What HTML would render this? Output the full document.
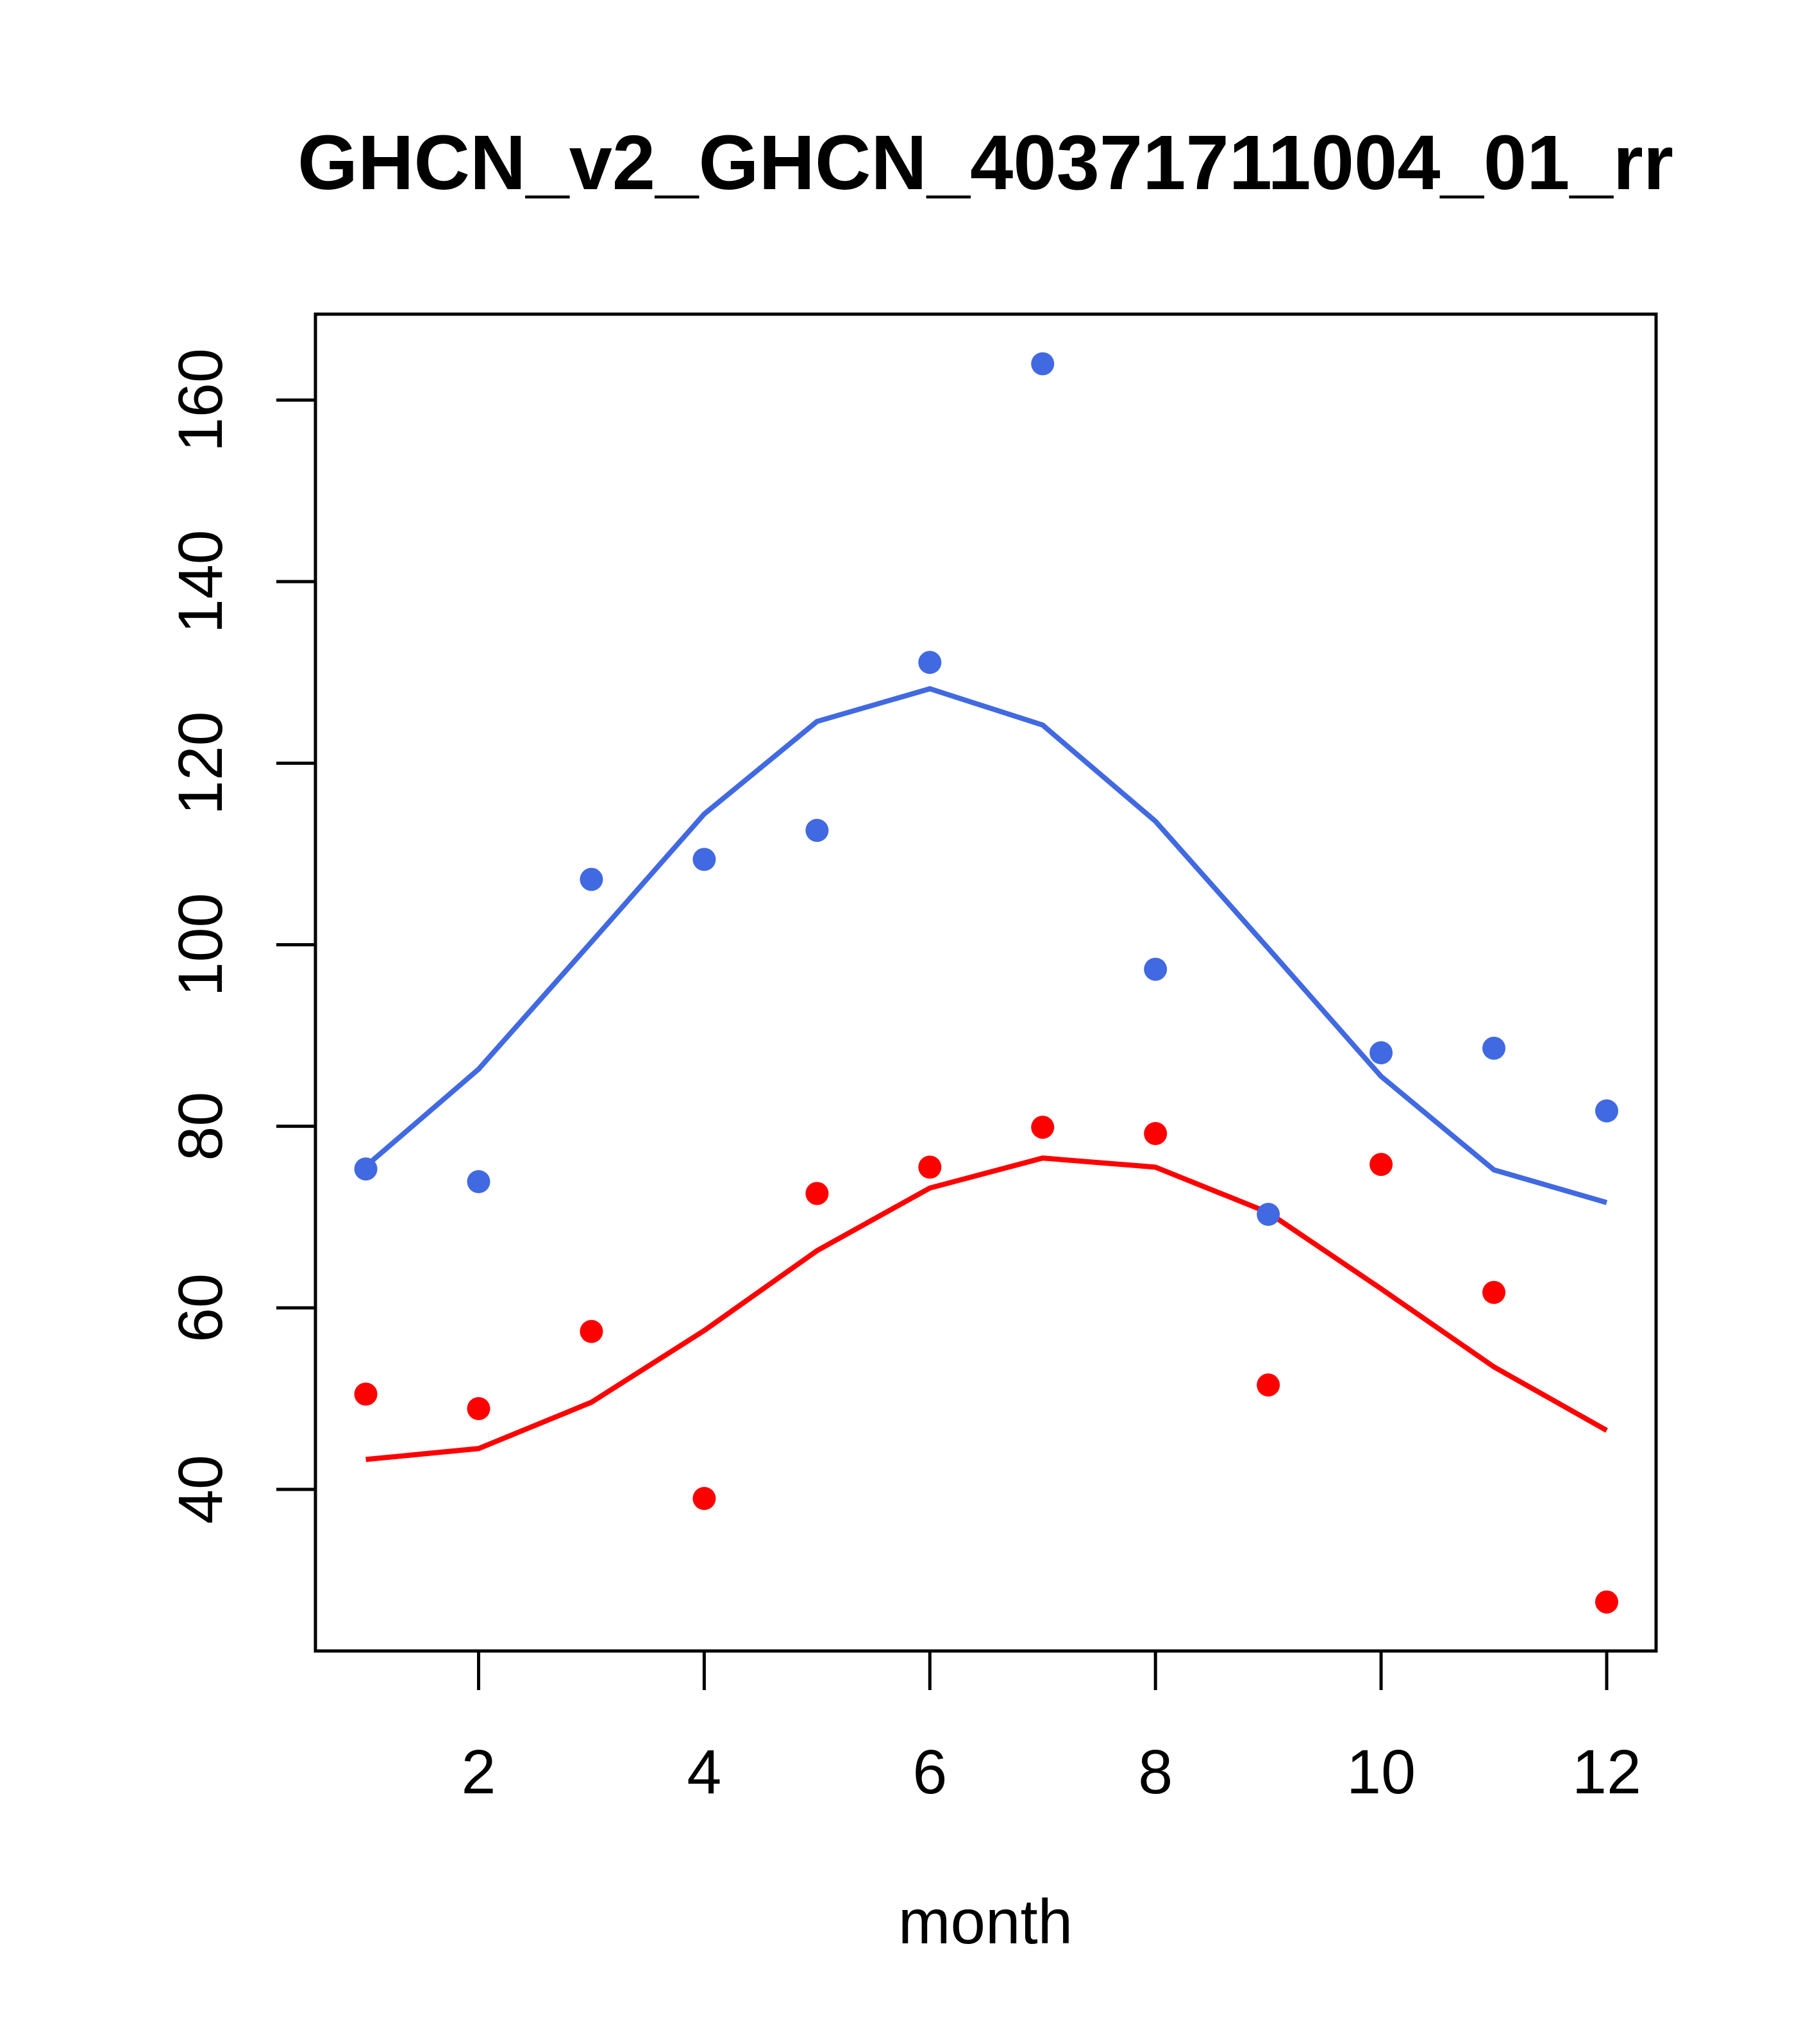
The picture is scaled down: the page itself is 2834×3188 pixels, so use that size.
<!DOCTYPE html>
<html><head><meta charset="utf-8"><style>html,body{margin:0;padding:0;background:#fff}svg{display:block}</style></head>
<body>
<svg id="chart" width="2834" height="3188" viewBox="0 0 2834 3188" xmlns="http://www.w3.org/2000/svg" font-family="Liberation Sans, Arial, sans-serif">
<text x="1537" y="295" text-anchor="middle" font-size="121" font-weight="bold">GHCN_v2_GHCN_40371711004_01_rr</text>
<rect x="492" y="490" width="2091" height="2085" fill="none" stroke="#000" stroke-width="5"/>
<g id="xaxis"></g>
<g id="yaxis"></g>
<text x="1537" y="3031" text-anchor="middle" font-size="98">month</text>
<g id="marks"></g>
</svg>
<script>
const months=[1,2,3,4,5,6,7,8,9,10,11,12];
const bluePoints=[75.3,73.9,107.2,109.4,112.6,131.1,164,97.3,70.3,88.1,88.6,81.7];
const blueLine=[75.6,86.3,100.3,114.4,124.6,128.2,124.2,113.6,99.6,85.5,75.2,71.6];
const redPoints=[50.5,48.9,57.4,39,72.6,75.5,79.9,79.2,51.5,75.8,61.7,27.6];
const redLine=[43.3,44.5,49.6,57.5,66.3,73.2,76.5,75.5,70.5,62.1,53.5,46.5];
const xTicks=[2,4,6,8,10,12];
const yTicks=[40,60,80,100,120,140,160];
const NS="http://www.w3.org/2000/svg";
function X(m){return 746.5+(m-2)*(2506-746.5)/10;}
function Y(v){return 2323-(v-40)*(2323-624)/120;}
function mk(tag,attrs,parent){const e=document.createElementNS(NS,tag);for(const k in attrs)e.setAttribute(k,attrs[k]);parent.appendChild(e);return e;}
const xa=document.getElementById('xaxis'),ya=document.getElementById('yaxis'),mg=document.getElementById('marks');
xTicks.forEach(t=>{
 const l=mk('line',{x1:X(t),x2:X(t),y1:2575,y2:2636,stroke:'#000','stroke-width':5},xa);
 
 
 const tx=mk('text',{x:X(t),y:2797,'text-anchor':'middle','font-size':97},xa);
 tx.textContent=t;
 
 
});
yTicks.forEach(t=>{
 const l=mk('line',{x1:431,x2:492,y1:Y(t),y2:Y(t),stroke:'#000','stroke-width':5},ya);
 
 
 const tx=mk('text',{x:0,y:0,'text-anchor':'middle','font-size':97,transform:`translate(346,${Y(t)}) rotate(-90)`},ya);
 tx.textContent=t;
 
 
});
function line(vals,color,name){
 const p=mk('polyline',{points:vals.map((v,i)=>X(months[i])+','+Y(v)).join(' '),fill:'none',stroke:color,'stroke-width':8},mg);
 
 
}
function pts(vals,color,name){
 vals.forEach((v,i)=>{
  const c=mk('circle',{cx:X(months[i]),cy:Y(v),r:18,fill:color},mg);
  
  
 });
}
line(blueLine,'#4169E1','blue-line');
line(redLine,'#FF0000','red-line');
pts(bluePoints,'#4169E1','blue-point');
pts(redPoints,'#FF0000','red-point');
</script>
</body></html>
